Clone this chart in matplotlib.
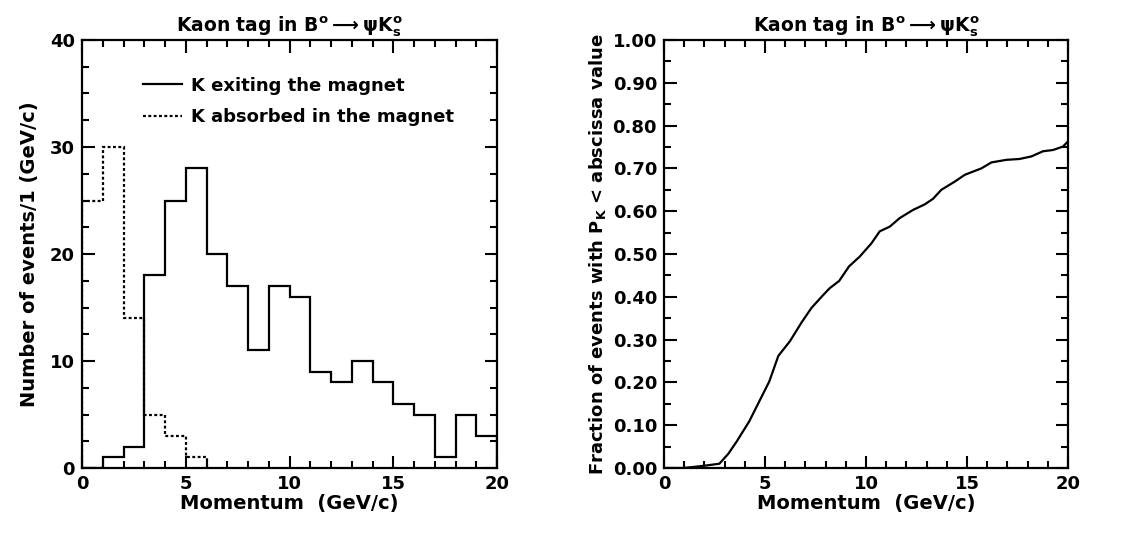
import numpy as np
import matplotlib
matplotlib.use('Agg')
import matplotlib.pyplot as plt
from matplotlib.ticker import MultipleLocator, FormatStrFormatter

plt.rcParams['font.family'] = ['DejaVu Sans']
plt.rcParams['font.weight'] = 'bold'
plt.rcParams['axes.labelweight'] = 'bold'
plt.rcParams['axes.titleweight'] = 'bold'
plt.rcParams['mathtext.default'] = 'bf'

# Histogram data (1 GeV/c bins)
bin_edges = np.arange(0, 21)
k_exiting = [0, 1, 2, 18, 25, 28, 20, 17, 11, 17, 16, 9, 8, 10, 8, 6, 5, 1, 5, 3]
absorbed_edges = np.arange(0, 7)
k_absorbed = [25, 30, 14, 5, 3, 1]

# Cumulative fraction curve
cum_p = [0.0, 0.96, 1.95, 2.74, 3.18, 3.6, 4.22, 4.72, 5.21, 5.66, 6.23, 6.81, 7.3, 7.8,
         8.2, 8.67, 9.16, 9.69, 10.27, 10.68, 11.18, 11.67, 12.33, 12.91, 13.32, 13.73,
         14.39, 14.89, 15.38, 15.71, 16.21, 16.95, 17.6, 18.19, 18.76, 19.26, 19.75, 20.0]
cum_frac = [0.0, 0.0, 0.005, 0.01, 0.033, 0.062, 0.109, 0.156, 0.202, 0.262, 0.296, 0.34,
            0.374, 0.40, 0.42, 0.437, 0.471, 0.494, 0.525, 0.553, 0.564, 0.584, 0.603,
            0.616, 0.629, 0.65, 0.669, 0.685, 0.694, 0.70, 0.714, 0.72, 0.722, 0.728,
            0.74, 0.743, 0.751, 0.763]

title = r'Kaon tag in B$^{o}$$\longrightarrow\psi$K$^{o}_{s}$'
fs = 13
lfs = 14

fig = plt.figure(figsize=(11.32, 5.4), dpi=100)
ax1 = fig.add_axes([82 / 1132, 1 - 468 / 540, 415 / 1132, 428 / 540])
ax2 = fig.add_axes([664 / 1132, 1 - 468 / 540, 404 / 1132, 428 / 540])


def style_axes(ax):
    for s in ax.spines.values():
        s.set_linewidth(1.6)
    ax.tick_params(which='both', direction='in', top=True, right=True, labelsize=fs, width=1.5)
    ax.tick_params(which='major', length=9, pad=5)
    ax.tick_params(which='minor', length=5)
    ax.xaxis.set_major_locator(MultipleLocator(5))
    ax.xaxis.set_minor_locator(MultipleLocator(1))
    ax.set_xlim(0, 20)
    ax.set_xlabel('Momentum  (GeV/c)', fontsize=lfs, labelpad=1)
    ax.set_title(title, fontsize=13.5, pad=6)


# Left: histograms
ax1.stairs(k_exiting, bin_edges, baseline=0, color='black', linewidth=1.6,
           label='K exiting the magnet')
ax1.stairs(k_absorbed, absorbed_edges, baseline=0, color='black', linewidth=1.6,
           linestyle=(0, (1.3, 1.1)), label='K absorbed in the magnet')
style_axes(ax1)
ax1.set_ylim(0, 40)
ax1.yaxis.set_major_locator(MultipleLocator(10))
ax1.yaxis.set_minor_locator(MultipleLocator(2.5))
ax1.set_ylabel('Number of events/1 (GeV/c)', fontsize=lfs, labelpad=8)
ax1.legend(loc='upper left', bbox_to_anchor=(0.12, 0.94), frameon=False, fontsize=fs,
           handlelength=2.2, handletextpad=0.5, labelspacing=0.75, borderaxespad=0.2)

# Right: cumulative fraction
ax2.plot(cum_p, cum_frac, color='black', linewidth=1.6)
style_axes(ax2)
ax2.set_ylim(0, 1.0)
ax2.yaxis.set_major_locator(MultipleLocator(0.1))
ax2.yaxis.set_minor_locator(MultipleLocator(0.05))
ax2.yaxis.set_major_formatter(FormatStrFormatter('%.2f'))
ax2.set_ylabel(r'Fraction of events with P$_{K}$ < abscissa value', fontsize=13, labelpad=3)

fig.savefig('out.png', dpi=100)
